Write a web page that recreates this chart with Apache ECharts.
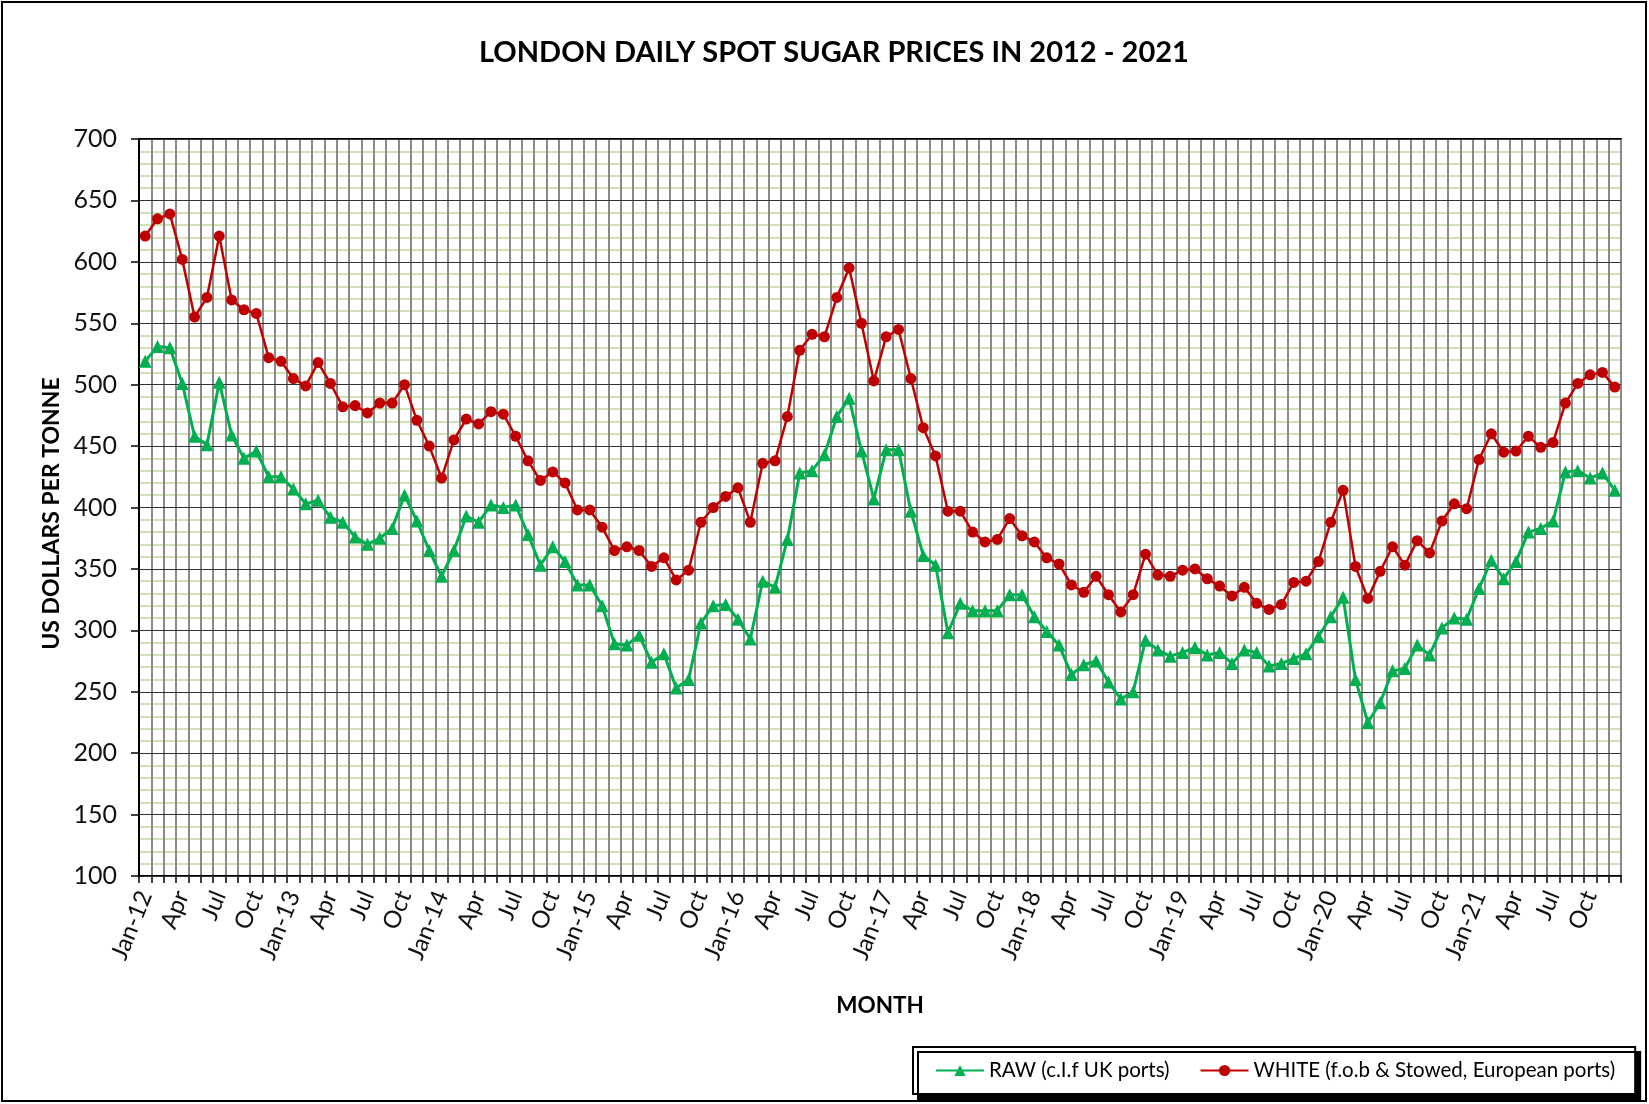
<!DOCTYPE html>
<html><head><meta charset="utf-8">
<script src="https://cdn.jsdelivr.net/npm/echarts@6/dist/echarts.min.js"></script>
<style>html,body{margin:0;padding:0;background:#fff}#c{width:1649px;height:1104px}</style>
</head><body><div id="c"></div>
<script>
const FONT = 'Lato, "DejaVu Sans", sans-serif';
const monthNames = ['Jan','Feb','Mar','Apr','May','Jun','Jul','Aug','Sep','Oct','Nov','Dec'];
const years = ['12','13','14','15','16','17','18','19','20','21'];
const categories = [];
years.forEach(y => monthNames.forEach(m => categories.push(m + '-' + y)));

const rawName = 'RAW (c.I.f UK ports)';
const whiteName = 'WHITE (f.o.b & Stowed, European ports)';

const rawPrices = [
  519,531,530,501,458,451,502,459,440,446,425,425,
  415,403,406,392,388,376,370,375,383,410,389,365,
  344,365,393,388,402,400,402,378,353,368,356,337,
  337,320,289,288,296,274,281,253,260,306,320,321,
  309,293,340,335,374,428,430,443,474,489,446,407,
  447,447,397,361,353,298,322,316,316,316,329,329,
  311,299,288,264,272,275,258,244,250,292,284,279,
  282,286,280,282,273,284,282,271,273,277,281,295,
  311,327,260,225,241,267,269,288,280,302,310,309,
  334,357,342,356,380,383,389,429,430,424,428,414
];
const whitePrices = [
  621,635,639,602,555,571,621,569,561,558,522,519,
  505,499,518,501,482,483,477,485,485,500,471,450,
  424,455,472,468,478,476,458,438,422,429,420,398,
  398,384,365,368,365,352,359,341,349,388,400,409,
  416,388,436,438,474,528,541,539,571,595,550,503,
  539,545,505,465,442,397,397,380,372,374,391,377,
  372,359,354,337,331,344,329,315,329,362,345,344,
  349,350,342,336,328,335,322,317,321,339,340,356,
  388,414,352,326,348,368,353,373,363,389,403,399,
  439,460,445,446,458,449,453,485,501,508,510,498
];
const yMin = 100, yMax = 700, yStep = 50, yMinorSplit = 5;

const chart = echarts.init(document.getElementById('c'), null, {renderer:'canvas'});
const option = {
  animation: false,
  backgroundColor: '#fff',
  textStyle: {fontFamily: FONT},
  title: {
    text: 'LONDON DAILY SPOT SUGAR PRICES IN 2012 - 2021',
    left: 479, top: 38, padding: 0,
    textStyle: {fontFamily: FONT, fontWeight: 'bold', fontSize: 29, color: '#000'}
  },
  legend: {
    data: [rawName, whiteName],
    left: 913, top: 1047,
    padding: [13, 20, 13, 22],
    itemGap: 30, itemWidth: 48, itemHeight: 14,
    backgroundColor: '#fff', borderColor: '#000', borderWidth: 2,
    shadowColor: '#000', shadowOffsetX: 5, shadowOffsetY: 5, shadowBlur: 0.01,
    textStyle: {fontFamily: FONT, fontSize: 20.5, color: '#000'}
  },
  grid: {left: 139, right: 28, top: 139, bottom: 228, show: false},
  xAxis: {
    type: 'category', data: categories, boundaryGap: true, z: 1,
    name: 'MONTH', nameLocation: 'middle', nameGap: 118,
    nameTextStyle: {fontFamily: FONT, fontWeight: 'bold', fontSize: 22.5, color: '#000'},
    axisLine: {show: true, lineStyle: {color: '#000', width: 2}},
    axisTick: {show: true, interval: 0, length: 7, lineStyle: {color: '#000', width: 1.5}},
    splitLine: {show: true, interval: 0, lineStyle: {color: '#8a8a8a', width: 2}},
    axisLabel: {
      interval: 2, rotate: 68, margin: 16, fontSize: 24, color: '#111', fontFamily: FONT,
      formatter: v => v.startsWith('Jan') ? v : v.slice(0, 3)
    }
  },
  yAxis: [{
    type: 'value', min: yMin, max: yMax, interval: yStep, z: 2,
    name: 'US DOLLARS PER TONNE', nameLocation: 'middle', nameGap: 68,
    nameTextStyle: {fontFamily: FONT, fontWeight: 'bold', fontSize: 23, color: '#000', padding: [0, 12, 0, 0]},
    axisLine: {show: true, lineStyle: {color: '#000', width: 2}},
    axisTick: {show: true, length: 8, lineStyle: {color: '#000', width: 1.5}},
    axisLabel: {margin: 22, fontSize: 25, color: '#111', fontFamily: FONT},
    splitLine: {show: true, lineStyle: {color: '#333', width: 1}}
  }, {
    type: 'value', min: yMin, max: yMax, interval: yStep, z: 0, position: 'left',
    axisLine: {show: false}, axisTick: {show: false}, axisLabel: {show: false},
    splitLine: {show: false},
    minorTick: {show: false, splitNumber: yMinorSplit},
    minorSplitLine: {show: true, lineStyle: {color: '#c4d79b', width: 1.5}}
  }],
  graphic: [
    {type: 'rect', z: 1, silent: true,
     shape: {x: 139, y: 139, width: 1482, height: 737},
     style: {fill: null, stroke: '#000', lineWidth: 2}},
    {type: 'rect', z: 1, silent: true,
     shape: {x: 2, y: 2, width: 1644, height: 1099},
     style: {fill: null, stroke: '#000', lineWidth: 2}}
  ],
  series: [{
    name: rawName, type: 'line', data: rawPrices, z: 3,
    symbol: 'triangle', symbolSize: 13, showAllSymbol: true,
    lineStyle: {color: '#00b050', width: 3},
    itemStyle: {color: '#00b050'}
  }, {
    name: whiteName, type: 'line', data: whitePrices, z: 3,
    symbol: 'circle', symbolSize: 11, showAllSymbol: true,
    lineStyle: {color: '#c00000', width: 2.5},
    itemStyle: {color: '#c00000'}
  }]
};
chart.setOption(option);
</script></body></html>
